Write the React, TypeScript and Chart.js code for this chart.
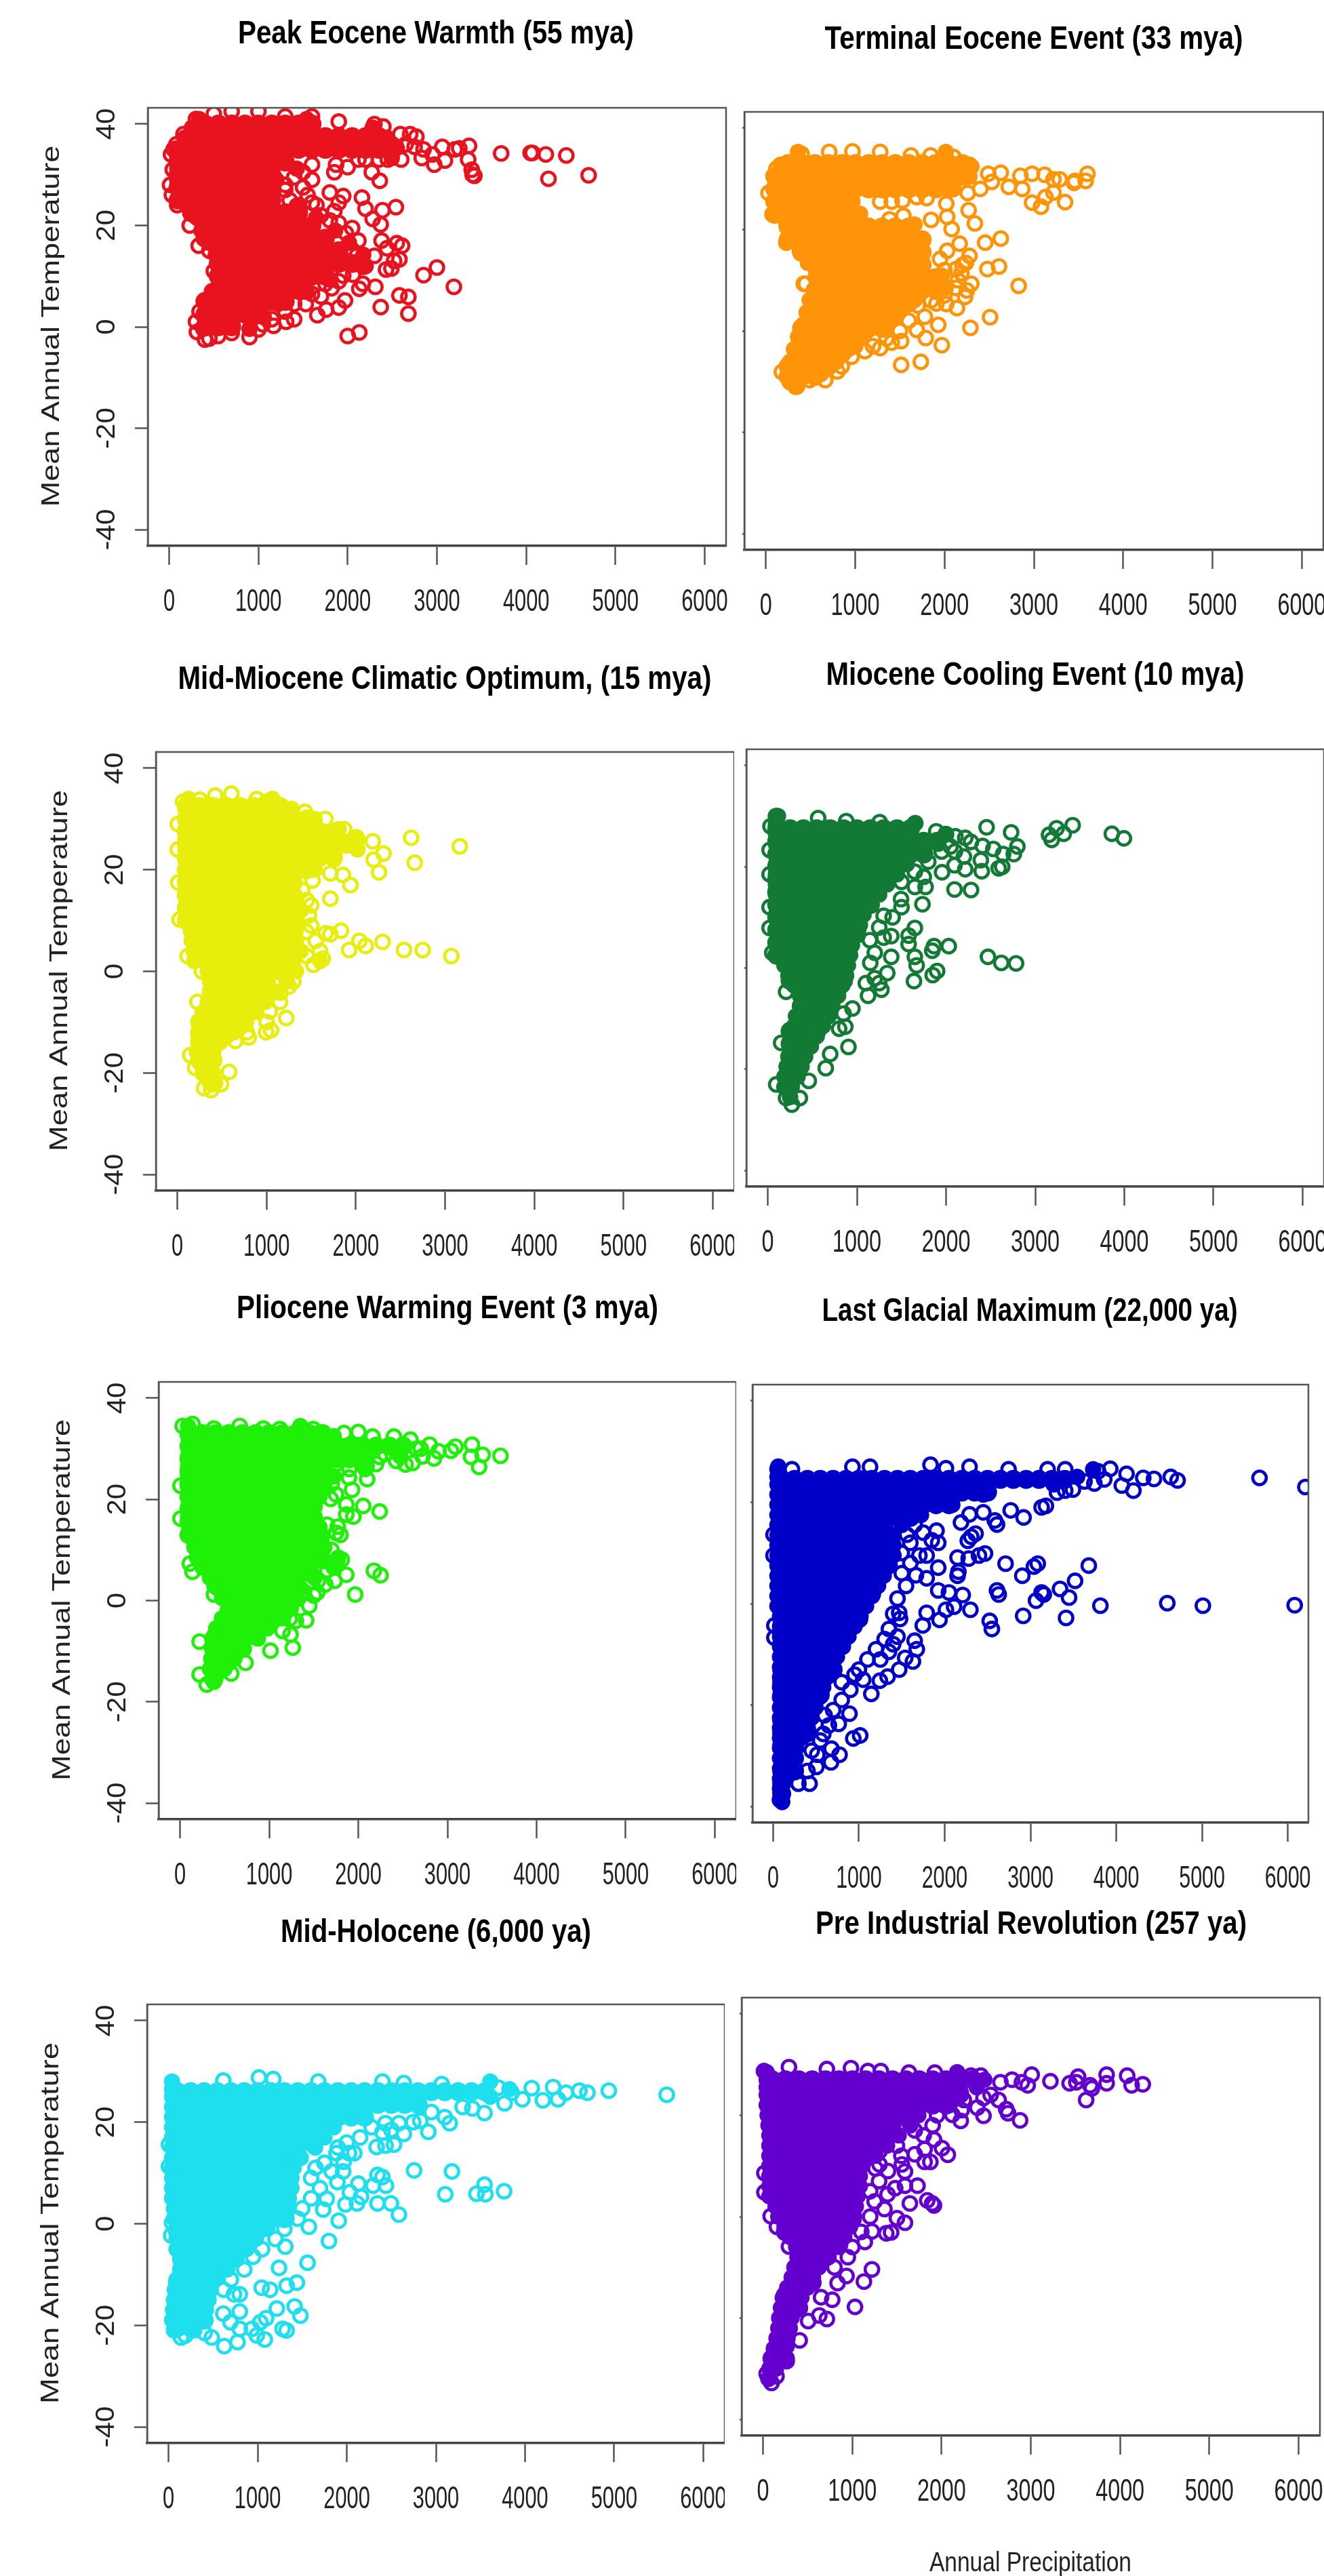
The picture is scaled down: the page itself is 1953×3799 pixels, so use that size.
import React, { useEffect, useRef } from "react";
import { Chart, registerables } from "chart.js";

Chart.register(...registerables);

type Row = [number, number[]];

const xTicks = [0, 1000, 2000, 3000, 4000, 5000, 6000];
const yTicks = [-40, -20, 0, 20, 40];
const yAxisTitle = "Mean Annual Temperature";
const xAxisTitle = "Annual Precipitation";

// Dense, fully overplotted clouds: [temperature, [precipitation, ...]]
const peakDense: Row[] = [
  [40, [400,550,700,850,1000,1150,1300,1450,1600]],
  [37.5, [250,400,550,700,850,1000,1150,1300,1450,1600,1750,1900,2050,2200,2350]],
  [35, [100,250,400,550,700,850,1000,1150,1300,1450,1600,1750,1900,2050,2200,2350,2500]],
  [32.5, [100,250,400,550,700,850,1000,1150,1300]],
  [30, [100,250,400,550,700,850,1000,1150]],
  [27.5, [100,250,400,550,700,850,1000,1150]],
  [25, [100,250,400,550,700,850,1000,1150]],
  [22.5, [250,400,550,700,850,1000,1150,1300,1450]],
  [20, [400,550,700,850,1000,1150,1300,1450,1600]],
  [17.5, [400,550,700,850,1000,1150,1300,1450,1600,1750]],
  [15, [550,700,850,1000,1150,1300,1450,1600,1750,1900]],
  [12.5, [550,700,850,1000,1150,1300,1450,1600,1750,1900,2050]],
  [10, [550,700,850,1000,1150,1300,1450,1600,1750]],
  [7.5, [550,700,850,1000,1150,1300,1450]],
  [5, [400,550,700,850,1000,1150,1300]],
  [2.5, [400,550,700,850,1000]],
  [0, [400,550,700]],
];
// Outer fringe of each cloud: [temperature, low precipitation, high precipitation]
const peakFringe = [[41,335,1540],[39.3,255,2280],[37.3,175,2440],[35.3,110,2550],[33.3,90,2495],[31.2,90,1430],[28.8,90,1165],[26.4,110,1165],[23.9,200,1430],[21.5,310,1645],[19,360,1860],[16.6,440,2015],[14.2,520,2175],[11.8,575,2175],[9.3,575,1805],[6.9,495,1540],[4.5,440,1220],[2,390,1060],[-0.4,380,900]];
const peakRings = [3720,34.2,4050,34.3,4070,34.3,4220,34,4450,33.8,4700,29.9,4250,29.2,3360,35.7,3350,33,3390,31,3400,30,3420,29.8,3060,35.5,3200,35,3250,35.2,3090,32.8,2970,32,2830,33.3,2950,34,2850,35,2700,38,2770,37.5,2590,38,2600,33,2450,33,2650,36,2500,36,2750,35.5,1200,29,1000,28.5,1100,27,1300,27,1350,25,1550,26,1600,24.5,1650,24,1800,26.5,1950,25.8,1900,24.5,1850,22.8,2160,25.5,2200,23.3,2280,21.3,2390,23,2370,20.2,2540,23.6,2360,28.8,2270,30.5,2000,31.5,1850,30.5,1870,32,1600,32,1500,30.5,1300,28,2120,33,2350,33,2200,33,2380,17,2440,15.5,2550,16.5,2610,16,2520,13,2580,13.3,2430,11.3,2490,11.5,2300,14,2200,12,2100,14,2120,17,1980,18.5,2060,15,2850,10.2,3000,11.7,3190,7.9,2310,7.9,2170,8.5,2130,7.5,2060,10.3,1950,10.1,1820,7.6,2580,6.2,2680,5.9,2680,2.6,2370,3.9,1970,5.2,1900,3.8,1760,3.4,1660,2.3,1530,4.5,1700,6,1400,1.5,1310,1,1170,.2,2000,-1.8,2130,-1.1,900,-2,700,-1.2,1000,-.5,40,31,10,28,50,35,20,34,30,26,90,24,230,20,330,16,450,15,500,11,480,7,340,3,300,1,310,-1,400,-2.5,450,-2.3,550,-1.8,300,41,500,42,700,42.5,1000,42.5,1300,41.5,1600,41.5,1900,40.5,2300,40,2400,39.5,160,38,80,36,1500,27.5,1400,29.5,1600,29,1450,24,1700,22,1800,21,1900,20.5,2050,19.5,2000,12.5,1900,9,1750,8.5,1600,6.5,1400,4.5,1300,3,1150,1.5,1050,.5];

const terminalDense: Row[] = [
  [33, [250,400,550,700,850,1000,1150,1300,1450,1600,1750,1900,2050,2200]],
  [30.5, [100,250,400,550,700,850,1000,1150,1300,1450,1600,1750,1900,2050,2200]],
  [28, [100,250,400,550,700,850,1000,1150,1300,1450,1600,1750,1900,2050]],
  [25.5, [100,250,400,550,700,850]],
  [23, [100,250,400,550,700,850,1000]],
  [20.5, [250,400,550,700,850,1000,1150,1300,1450,1600]],
  [18, [250,400,550,700,850,1000,1150,1300,1450,1600,1750]],
  [15.5, [400,550,700,850,1000,1150,1300,1450,1600,1750]],
  [13, [550,700,850,1000,1150,1300,1450,1600,1750]],
  [10.5, [700,850,1000,1150,1300,1450,1600,1750,1900]],
  [8, [550,700,850,1000,1150,1300,1450,1600,1750,1900]],
  [5.5, [550,700,850,1000,1150,1300,1450,1600]],
  [3, [550,700,850,1000,1150,1300,1450]],
  [0.5, [400,550,700,850,1000,1150,1300]],
  [-2, [400,550,700,850,1000]],
  [-4.5, [400,550,700,850]],
  [-7, [250,400,550,700]],
  [-9, [250,400,550]],
];
const terminalFringe = [[35.3,360,2015],[32.8,165,2280],[30.4,120,2280],[28,100,2100],[25.5,100,970],[23.1,140,1055],[21,230,1665],[18.2,295,1730],[15.8,380,1755],[13.4,470,1755],[10.9,560,1970],[8.5,560,2015],[6.1,490,1665],[3.6,455,1490],[1.2,415,1360],[-1.2,360,1055],[-3.6,315,925],[-6.1,270,790],[-8.5,250,620],[-11,340,350]];
const terminalRings = [3600,31,3580,29.6,3460,29.6,3450,29.2,3350,25.4,3290,29.9,3220,29.9,3220,27.3,3130,26.4,3080,24.5,2980,25.3,3120,30.8,2980,31,2850,30.6,2870,28,2720,28.4,2630,31.2,2490,31,2530,29.4,2400,28,2300,32.4,2260,27.2,2100,28,2020,25.1,1800,26.2,1690,26.4,1530,25.7,1410,25.5,1280,25.5,2270,23.8,2340,21.2,2030,22.5,2080,20.1,1850,21.9,1540,22.7,1385,22,905,22.3,1035,23.1,2630,18.2,2455,17.4,2170,17.2,2030,15.8,1950,14.2,2280,14.8,2240,13.4,2610,12.7,2480,12.2,2300,9.3,2190,11.4,2130,12.2,2830,8.9,2130,8.5,2230,6.7,2140,4.5,2020,5.3,1910,5.4,2510,2.7,2290,.6,1930,1.2,1780,2.8,1690,.2,1790,-1.4,1970,-2.8,1515,-2,1410,-2.3,1280,-3.4,1110,-4,1735,-6.1,1515,-6.7,960,-5.1,665,-9.7,425,9.3,445,9.3,400,34.9,710,35.3,970,35.4,1280,35.3,1625,34.6,1845,34.6,2100,34.3,120,32,30,27.2,75,23,230,17.4,270,-10.1,180,-8.1,335,-11,490,-9.7,1900,9.5,2000,12,2150,10,2250,8,2200,13,2000,7,1850,6,1700,5,1600,2,1500,0,1350,-1.5,1200,-3,1100,-1,1000,-3,850,-7,800,-8];

const midMioceneDense: Row[] = [
  [32.5, [100,250,400,550,700,850,1000,1150]],
  [30, [100,250,400,550,700,850,1000,1150,1300,1450]],
  [27.5, [100,250,400,550,700,850,1000,1150,1300,1450,1600,1750]],
  [25, [100,250,400,550,700,850,1000,1150,1300,1450,1600,1750,1900]],
  [22.5, [100,250,400,550,700,850,1000,1150,1300,1450,1600,1750]],
  [20, [100,250,400,550,700,850,1000,1150,1300,1450]],
  [17.5, [100,250,400,550,700,850,1000,1150,1300]],
  [15, [100,250,400,550,700,850,1000,1150,1300]],
  [12.5, [100,250,400,550,700,850,1000,1150,1300]],
  [10, [100,250,400,550,700,850,1000,1150,1300]],
  [7.5, [250,400,550,700,850,1000,1150,1300]],
  [5, [250,400,550,700,850,1000,1150,1300]],
  [2.5, [250,400,550,700,850,1000,1150,1300]],
  [0, [400,550,700,850,1000,1150]],
  [-2.5, [400,550,700,850,1000]],
  [-5, [400,550,700,850,1000]],
  [-7.5, [400,550,700,850]],
  [-10, [250,400,550,700]],
  [-12.5, [250,400,550]],
  [-15, [250,400]],
  [-17.5, [250,400]],
  [-20, [300]],
  [-22, [400]],
];
const midMioceneFringe = [[34,125,1065],[32,90,1280],[30,90,1540],[28,90,1810],[26,90,2020],[24,90,2020],[22,90,1755],[20,90,1540],[18,100,1280],[16,100,1280],[14,100,1330],[12,100,1385],[10,115,1330],[8,150,1330],[6,160,1330],[4,180,1385],[2,190,1600],[0,340,1330],[-2,365,1225],[-4,365,1115],[-6,340,985],[-8,285,880],[-10,260,770],[-12,235,640],[-14,235,480],[-16,220,400],[-18,250,345],[-20,340,400],[-22,365,425]];
const midMioceneRings = [1430,31.4,1660,30,1870,28,2005,26.4,2190,25.6,2310,23.2,2200,22,2260,19.5,2620,26.3,2660,21.4,3165,24.6,1940,17,1855,19,1715,19.3,1515,17.9,1715,14.3,1500,13,1475,11,1445,7.8,1660,7.5,1715,7.3,1835,8,2040,6,1925,4.2,2110,5,2300,5.8,2540,4.2,2750,4.2,3070,3,1630,2.5,1525,1.3,1155,-4.2,1035,-7.9,1220,-9.2,1050,-11.6,995,-12,780,-12,650,-13.7,580,-19.8,490,-22.2,300,-23,380,-23.4,200,-19,145,-16.5,425,34.6,605,35,250,33.8,65,33.4,890,33.9,995,33.4,1260,31.7,5,29,5,24,10,17.5,25,10.2,115,3,275,0,225,-6,1400,16,1450,14,1500,9,1550,6,1450,3,1600,4,1300,-2,1150,-6,1250,-3,1000,-10,800,-13];

const coolingDense: Row[] = [
  [27.5, [100,250,400,550,700,850,1000,1150,1300,1450,1600]],
  [25, [100,250,400,550,700,850,1000,1150,1300,1450,1600,1750,1900]],
  [22.5, [100,250,400,550,700,850,1000,1150,1300,1450,1600,1750]],
  [20, [100,250,400,550,700,850,1000,1150,1300,1450]],
  [17.5, [100,250,400,550,700,850,1000,1150,1300]],
  [15, [100,250,400,550,700,850,1000,1150]],
  [12.5, [100,250,400,550,700,850,1000,1150]],
  [10, [100,250,400,550,700,850,1000]],
  [7.5, [100,250,400,550,700,850,1000]],
  [5, [100,250,400,550,700,850]],
  [2.5, [100,250,400,550,700,850]],
  [0, [250,400,550,700,850]],
  [-2.5, [250,400,550,700,850]],
  [-5, [400,550,700]],
  [-7.5, [400,550,700]],
  [-10, [400,550]],
  [-12.5, [250,400,550]],
  [-15, [250,400]],
  [-17.5, [250,400]],
  [-20, [250]],
  [-22.5, [250]],
];
const coolingFringe = [[30,90,115],[28.5,90,1645],[26.5,90,1995],[24.5,90,1910],[22.5,90,1730],[20.5,90,1560],[18.5,90,1450],[16.5,90,1340],[14.5,90,1250],[12.5,90,1165],[10.5,90,1075],[8.5,120,1035],[6.5,120,1010],[4.5,120,945],[2.5,120,925],[0.5,185,900],[-1.5,230,880],[-3.5,295,835],[-5.5,360,790],[-7.5,360,725],[-9.5,315,685],[-11.5,295,620],[-13.5,270,550],[-15.5,250,485],[-17.5,230,420],[-19.5,210,380],[-21.5,185,335],[-23.5,185,270],[-25.5,250,250]];
const coolingRings = [2455,27.8,2730,26.8,3155,26.3,3240,27.6,3185,25.3,3320,26.5,3420,28.2,3860,26.5,3995,25.6,2800,24,2760,22.5,2640,22.5,2530,23.5,2410,24.1,2280,24.9,2215,25.7,2105,26,2000,26.4,2390,21.3,2400,19.1,2590,19.7,2630,20,2215,19.5,2095,20.3,1955,18.9,2095,15.5,2280,15.4,1770,16,1735,12.6,1650,7.9,1580,6.4,1580,4.7,1650,2.2,1670,.5,1640,-2.6,1865,4.3,1845,3.4,2030,4.3,2470,2.2,2620,1,2785,.9,1900,-.6,1850,-1.4,1385,6.3,1385,2.2,1340,-1,1275,-4.3,1125,-5.5,1145,5.5,870,-11.6,905,-15.6,650,-19.8,460,-22.3,360,-25.7,270,-27,1300,10.3,1495,13.6,1650,16,95,30,565,29.6,30,28,880,29,1255,28.8,1655,28.6,1890,27,20,23.3,20,18.5,20,12,20,7.9,50,3,205,-4.7,150,-14.8,95,-23,205,-25.7,1500,12,1400,10,1250,8,1300,6,1200,3,1150,1,1200,-2,1250,-3,1100,-3,950,-8,800,-12,850,-9,700,-17,1500,17,1650,19,1800,21,1950,23,1750,18,2100,23,2200,22,2050,24];

const plioceneDense: Row[] = [
  [33, [100,250,400,550,700,850,1000,1150,1300,1450,1600]],
  [30.5, [100,250,400,550,700,850,1000,1150,1300,1450,1600,1750,1900,2050,2200,2350,2500]],
  [28, [100,250,400,550,700,850,1000,1150,1300,1450,1600,1750,1900,2050]],
  [25.5, [100,250,400,550,700,850,1000,1150,1300,1450,1600]],
  [23, [100,250,400,550,700,850,1000,1150,1300,1450,1600]],
  [20.5, [100,250,400,550,700,850,1000,1150,1300,1450]],
  [18, [100,250,400,550,700,850,1000,1150,1300,1450]],
  [15.5, [100,250,400,550,700,850,1000,1150,1300,1450]],
  [13, [100,250,400,550,700,850,1000,1150,1300,1450]],
  [10.5, [250,400,550,700,850,1000,1150,1300,1450]],
  [8, [250,400,550,700,850,1000,1150,1300,1450,1600]],
  [5.5, [400,550,700,850,1000,1150,1300,1450]],
  [3, [400,550,700,850,1000,1150,1300]],
  [0.5, [550,700,850,1000,1150,1300]],
  [-2, [550,700,850,1000,1150]],
  [-4.5, [550,700,850,1000]],
  [-7, [400,550,700,850]],
  [-9.5, [400,550,700]],
  [-12, [400,550]],
  [-14.5, [400]],
];
const plioceneFringe = [[34.5,90,1350],[32.5,90,1725],[30.5,90,2520],[28.5,90,2470],[26.5,90,2095],[24.5,90,1725],[22.5,90,1620],[20.5,90,1565],[18.5,90,1510],[16.5,90,1510],[14.5,105,1565],[12.5,130,1590],[10.5,160,1620],[8.5,190,1775],[6.5,255,1725],[4.5,335,1510],[2.5,415,1350],[0.5,470,1300],[-1.5,545,1245],[-3.5,470,1140],[-5.5,405,980],[-7.5,360,875],[-9.5,360,715],[-11.5,350,610],[-13.5,335,500],[-15.5,360,395]];
const plioceneRings = [3595,28.6,3395,28.8,3355,26.4,3275,30.8,3265,28.4,3090,30.4,3040,29.6,2800,30.8,2850,28.1,2720,28.5,2585,31.8,2610,27.2,2530,26.9,2425,27.6,2400,32.4,2505,30.8,2160,32.4,2000,33.3,1840,33.1,1550,33,1495,33.9,2240,28.4,2080,26,1680,24.5,1895,24.3,1930,21.9,1690,20.1,1865,19,2055,18.7,2240,17.6,1865,17,1945,16.6,1770,14.6,1750,13.4,1815,8.1,1760,7.7,1865,5.1,1735,3.9,1630,3.2,2175,5.9,2250,5,1965,1.2,1540,1.6,1390,1.8,1415,-3.9,1230,-3.6,1240,-6.7,1265,-9.3,1015,-9.9,735,-12.3,575,-14.4,220,-8.1,300,-16.6,380,-16,220,-14.6,140,34.9,30,34.5,380,34,670,34.5,935,34,1120,33.9,1335,33.9,5,22.7,5,16.2,110,7.3,140,5.7,380,1.2,1800,13,1700,10,1650,6,1550,4,1500,1,1450,-1,1300,-4,1150,-6,1700,23,1750,21,1650,15,1750,27,1900,26,2100,24,2200,27,2300,29,2450,29,2650,30,2700,30,2900,29.5];

const glacialDense: Row[] = [
  [24.5, [100,250,400,550,700,850,1000,1150,1300,1450,1600,1750,1900,2050,2200,2350,2500,2650,2800,2950,3100,3250,3400]],
  [22, [100,250,400,550,700,850,1000,1150,1300,1450,1600,1750,1900,2050,2200,2350,2500]],
  [19.5, [100,250,400,550,700,850,1000,1150,1300,1450,1600,1750,1900,2050]],
  [17, [100,250,400,550,700,850,1000,1150,1300,1450,1600]],
  [14.5, [100,250,400,550,700,850,1000,1150,1300]],
  [12, [100,250,400,550,700,850,1000,1150,1300]],
  [9.5, [100,250,400,550,700,850,1000,1150,1300]],
  [7, [100,250,400,550,700,850,1000,1150,1300]],
  [4.5, [100,250,400,550,700,850,1000,1150]],
  [2, [100,250,400,550,700,850,1000,1150]],
  [-0.5, [100,250,400,550,700,850,1000]],
  [-3, [100,250,400,550,700,850,1000]],
  [-5.5, [100,250,400,550,700,850]],
  [-8, [100,250,400,550,700]],
  [-10.5, [100,250,400,550,700]],
  [-13, [100,250,400,550,700]],
  [-15.5, [100,250,400,550]],
  [-18, [100,250,400,550]],
  [-20.5, [100,250,400]],
  [-23, [100,250,400]],
  [-25.5, [100,250,400]],
  [-28, [100,250]],
  [-30.5, [100,250]],
  [-33, [100,250]],
  [-35.5, [100]],
  [-37.5, [100]],
];
const glacialFringe = [[26.5,50,3730],[25,50,3545],[23.5,50,3270],[21.5,50,2450],[19.5,50,2090],[17.5,50,1725],[15.5,50,1500],[13.5,50,1405],[11.5,50,1405],[9.5,50,1405],[7.5,50,1360],[5.5,50,1290],[3.5,50,1225],[1.5,50,1155],[-0.5,50,1085],[-2.5,80,1020],[-4.5,80,950],[-6.5,80,880],[-8.5,80,815],[-10.5,80,745],[-12.5,80,680],[-14.5,80,630],[-16.5,80,585],[-18.5,80,540],[-20.5,80,495],[-22.5,80,450],[-24.5,80,405],[-26.5,80,335],[-28.5,80,270],[-30.5,80,220],[-32.5,80,175],[-34.5,80,130],[-36.5,80,100],[-38.5,90,100]];
const glacialRings = [5670,24.8,6205,23,4715,24.3,4635,25,4440,24.6,4315,24.8,4200,22.3,4120,25.6,4065,23.3,3930,26.6,3860,24.5,3790,26.1,3745,23.7,3630,24.1,3495,22.5,3310,21.9,3405,22.3,3180,19.3,3130,19,2920,17,2770,18.4,2610,15.6,2585,16.4,2450,18,2290,17.6,2190,16,2360,13.8,2310,13.2,2270,12.4,2470,9.9,2400,9.5,2280,8.9,2150,9.1,2150,5.5,2160,6.3,2710,7.9,3040,7.3,3085,7.9,2905,5.5,3680,7.5,3520,4.5,3345,2.9,3450,1.2,3155,1.8,3130,2.2,3065,.6,2630,1.8,2610,2.6,2915,-2.4,3415,-2.8,3815,-.4,4595,.1,5010,-.4,6080,-.3,2525,-3.4,2550,-5,2300,-1.2,2210,1.7,2050,2.2,1925,2.6,2110,-.6,2015,-1.2,1940,-3.2,1790,-1.8,1745,-4.3,1470,-1.8,1480,-3,1790,5,1665,5.6,1925,7.1,1925,12,1905,14.4,1790,9.5,1705,9.5,1560,13.6,1650,-7.3,1675,-9,1630,-11.4,1540,-10.7,1470,-13,1335,-14.4,1245,-15.2,1145,-17.8,1015,-26,935,-26.6,775,-29.8,675,-31.3,680,-28.6,890,-21.7,765,-23.7,585,-25.7,515,-29.8,505,-32.2,425,-35.5,295,-35.5,60,27,220,26.5,925,27,1130,27,1835,27.4,2015,26.7,2290,27,2745,26.5,3200,26.5,3405,26.5,80,-38.7,15,-4.3,15,-6.7,5,9.5,5,13.6,105,-39.1,1500,17,1650,15.5,1750,14,1850,12.5,1600,12,1500,10,1600,8,1500,6,1550,3.5,1450,1,1400,-2,1350,-5,1300,-7,1200,-9,1100,-11,1000,-13,1250,-11,1350,-9.5,1400,-8,1450,-6.5,900,-17,800,-19,700,-21,650,-24,600,-22,800,-15.5,950,-14,1050,-15,550,-27,450,-29,400,-33];

const holoceneDense: Row[] = [
  [26, [100,250,400,550,700,850,1000,1150,1300,1450,1600,1750,1900,2050,2200,2350,2500,2650,2800,2950,3100,3250,3400,3550]],
  [23.5, [100,250,400,550,700,850,1000,1150,1300,1450,1600,1750,1900,2050,2200,2350,2500,2650,2800]],
  [21, [100,250,400,550,700,850,1000,1150,1300,1450,1600,1750,1900,2050,2200]],
  [18.5, [100,250,400,550,700,850,1000,1150,1300,1450,1600,1750]],
  [16, [100,250,400,550,700,850,1000,1150,1300,1450,1600]],
  [13.5, [100,250,400,550,700,850,1000,1150,1300,1450]],
  [11, [100,250,400,550,700,850,1000,1150,1300]],
  [8.5, [100,250,400,550,700,850,1000,1150,1300]],
  [6, [100,250,400,550,700,850,1000,1150,1300]],
  [3.5, [100,250,400,550,700,850,1000,1150,1300]],
  [1, [100,250,400,550,700,850,1000,1150,1300]],
  [-1.5, [100,250,400,550,700,850,1000]],
  [-4, [250,400,550,700,850]],
  [-6.5, [250,400,550,700]],
  [-9, [250,400,550]],
  [-11.5, [100,250,400]],
  [-14, [100,250,400]],
  [-16.5, [100,250,400]],
  [-19, [100,250,400]],
  [-20.5, [100,250]],
];
const holoceneFringe = [[28,40,3610],[26.5,40,3825],[25,40,3610],[23,40,2815],[21,40,2175],[19,40,1855],[17,40,1750],[15,40,1645],[13,40,1485],[11,40,1405],[9,40,1380],[7,40,1380],[5,40,1350],[3,60,1350],[1,60,1325],[-1,90,1110],[-3,90,980],[-5,90,875],[-7,130,765],[-9,130,660],[-11,90,525],[-13,70,475],[-15,60,450],[-17,50,420],[-19,40,370],[-21,60,290]];
const holoceneRings = [5590,25.4,4940,26.2,4700,25.8,4610,26.2,4460,25.8,4370,24.5,4315,26.9,4200,24.3,4075,26.7,3970,24.5,3850,25.8,3770,23.7,3545,21.8,3410,22.7,3155,19.8,2915,18.1,2825,20.3,2745,20,2640,17.7,2530,15.6,2435,15.4,2335,15.1,2280,19,2585,19.8,2435,19.8,2085,13.9,2025,13.9,1885,13.9,1965,12.2,1960,10.3,1830,10.3,1895,8.2,2755,10.5,3180,10.3,3545,7.7,3105,5.8,3455,5.9,3555,5.8,3765,6.4,2345,9.6,2400,9.2,2295,7.5,2440,7.5,2130,7.9,2035,6.2,1985,3.8,2115,4,2160,5.3,2345,4,2495,4,2585,1.8,1910,.6,1800,-3.4,1735,2.8,1775,4.9,1575,-.6,1310,-4.5,1560,-7.7,1240,-8.7,1440,-11.6,1325,-12.2,1140,-13,1045,-12.6,800,-13.9,735,-13.9,800,-17.3,1215,-16.7,1415,-16.3,1480,-18.1,1095,-18.6,1030,-19.4,1280,-20.7,1325,-21,935,-20.7,990,-22,1080,-22.8,800,-20.7,775,-23.3,625,-24.1,695,-19.4,615,-17.7,485,-22.4,405,-21.5,140,-22.4,190,-22,1015,28.8,615,28.2,1175,28.5,1680,28,2400,28,2640,27.7,3065,27.5,3700,26.8,30,-2.3,40,.2,5,15.6,5,11.3,2000,16,2150,17,1900,15,1750,12,1650,11,1600,9,1700,7,1600,5,1500,3,1450,1,1300,-1,1200,-3,1050,-5,950,-6.5,850,-9,700,-11,620,-13,2950,22,3100,21,3300,23,2500,18.5,2400,18];

const preIndustrialDense: Row[] = [
  [27, [100,250,400,550,700,850,1000,1150,1300,1450,1600,1750,1900,2050,2200,2350]],
  [24.5, [100,250,400,550,700,850,1000,1150,1300,1450,1600,1750,1900,2050,2200]],
  [22, [100,250,400,550,700,850,1000,1150,1300,1450,1600,1750,1900,2050]],
  [19.5, [100,250,400,550,700,850,1000,1150,1300,1450,1600]],
  [17, [100,250,400,550,700,850,1000,1150,1300,1450]],
  [14.5, [100,250,400,550,700,850,1000,1150,1300]],
  [12, [100,250,400,550,700,850,1000,1150]],
  [9.5, [100,250,400,550,700,850,1000]],
  [7, [100,250,400,550,700,850,1000]],
  [4.5, [100,250,400,550,700,850,1000]],
  [2, [250,400,550,700,850,1000]],
  [-0.5, [250,400,550,700,850,1000]],
  [-3, [250,400,550,700,850]],
  [-5.5, [400,550,700,850]],
  [-8, [400,550,700]],
  [-10.5, [400,550]],
  [-13, [400,550]],
  [-15.5, [250,400]],
  [-18, [250,400]],
  [-20.5, [250]],
  [-23, [250]],
  [-25.5, [250]],
  [-28, [100,250]],
  [-30, [100]],
];
const preIndustrialFringe = [[28.5,40,2175],[27,40,2480],[25.5,40,2395],[24,40,2220],[22,40,2090],[20,50,1740],[18,60,1650],[16,70,1520],[14,70,1390],[12,70,1260],[10,70,1105],[8,70,1085],[6,70,1085],[4,70,1060],[2,140,1040],[0,170,1020],[-2,240,975],[-4,300,910],[-6,370,845],[-8,390,735],[-10,350,625],[-12,320,560],[-14,270,495],[-16,220,430],[-18,200,365],[-20,180,320],[-22,170,300],[-24,150,275],[-26,120,235],[-28,90,210],[-30,70,145],[-32,60,60]];
const preIndustrialRings = [4255,26.1,4130,25.9,4080,27.8,3850,26.3,3850,28,3665,25.9,3685,25.3,3620,23,3530,27.6,3510,26.5,3435,26.3,3220,26.7,3010,28,2965,25.9,2880,19,2900,26.5,2745,20.4,2725,21.2,2640,23,2470,19.9,2470,23.4,2225,21,2215,18.9,2120,20.1,2070,12.2,2005,13.5,1915,15.2,1875,10.8,1810,10.8,1810,13.3,1730,6.1,1915,2.2,1895,2.6,1840,3.2,1645,2.6,1590,-1.2,1590,6.1,1590,8.9,1555,10.3,1700,12.3,1435,-3.1,1380,-3.3,1500,-.3,1360,1.5,1480,5.6,1395,4.4,1305,12.9,1260,9.5,1305,10.3,1220,-2.9,1140,-5,1220,-10.4,1130,-12.8,1030,-17.8,935,-11.7,835,-13.1,775,-16.4,650,-15.9,715,-20.2,630,-19.5,505,-20.6,410,-24.4,265,-28.5,150,-31.5,95,-32.8,40,-31,290,-5.9,155,-2,85,.1,15,4.8,15,8.6,290,29.5,715,29.1,985,29.3,1175,28.7,1320,28.7,1635,28.4,1925,28.4,2180,28,2330,27.8,2440,27.8,2660,26.5,2790,27,10,28.7,1500,14,1550,12,1400,9,1300,7,1200,5,1250,3,1200,0,1100,-3,1000,-6,950,-8,800,-10,1700,17,1800,16,1900,18,1950,20,2050,22,2250,23,2400,21.5,2550,24];

interface Panel {
  title: string; titleX: number; titleY: number; titleW: number;
  color: string; dense: Row[]; fringe: number[][]; rings: number[];
  left: number; right: number; top: number; bottom: number; clipRight: number;
  yLabels: boolean; digitScale: number; xTitle?: boolean;
}

const panels: Panel[] = [
  { title: "Peak Eocene Warmth (55 mya)", titleX: 643, titleY: 51, titleW: 584, color: "#E8131F", dense: peakDense, fringe: peakFringe, rings: peakRings, left: 218, right: 1071, top: 159, bottom: 805, clipRight: 1077, yLabels: true, digitScale: 0.655 },
  { title: "Terminal Eocene Event (33 mya)", titleX: 1525, titleY: 59, titleW: 617, color: "#FF9408", dense: terminalDense, fringe: terminalFringe, rings: terminalRings, left: 1098, right: 1952, top: 165, bottom: 811, clipRight: 1953, yLabels: false, digitScale: 0.688 },
  { title: "Mid-Miocene Climatic Optimum, (15 mya)", titleX: 656, titleY: 1003, titleW: 787, color: "#E8EE0C", dense: midMioceneDense, fringe: midMioceneFringe, rings: midMioceneRings, left: 230, right: 1083, top: 1109, bottom: 1756, clipRight: 1083, yLabels: true, digitScale: 0.655 },
  { title: "Miocene Cooling Event (10 mya)", titleX: 1527, titleY: 997, titleW: 617, color: "#137A35", dense: coolingDense, fringe: coolingFringe, rings: coolingRings, left: 1101, right: 1953, top: 1105, bottom: 1750, clipRight: 1953, yLabels: false, digitScale: 0.688 },
  { title: "Pliocene Warming Event (3 mya)", titleX: 660, titleY: 1931, titleW: 622, color: "#1EF008", dense: plioceneDense, fringe: plioceneFringe, rings: plioceneRings, left: 234, right: 1086, top: 2038, bottom: 2683, clipRight: 1086, yLabels: true, digitScale: 0.655 },
  { title: "Last Glacial Maximum (22,000 ya)", titleX: 1519, titleY: 1935, titleW: 613, color: "#0000C8", dense: glacialDense, fringe: glacialFringe, rings: glacialRings, left: 1110, right: 1930, top: 2042, bottom: 2688, clipRight: 1935, yLabels: false, digitScale: 0.646 },
  { title: "Mid-Holocene (6,000 ya)", titleX: 643, titleY: 2851, titleW: 458, color: "#1DDFEE", dense: holoceneDense, fringe: holoceneFringe, rings: holoceneRings, left: 217, right: 1069, top: 2956, bottom: 3603, clipRight: 1069, yLabels: true, digitScale: 0.655 },
  { title: "Pre Industrial Revolution (257 ya)", titleX: 1521, titleY: 2839, titleW: 636, color: "#6400CF", dense: preIndustrialDense, fringe: preIndustrialFringe, rings: preIndustrialRings, left: 1094, right: 1947, top: 2946, bottom: 3592, clipRight: 1953, yLabels: false, digitScale: 0.688, xTitle: true },
];

const FONT = '"Liberation Sans", Arial, sans-serif';

function stretched(ctx: CanvasRenderingContext2D, text: string, x: number, y: number, font: string, rot: number, scale: number | null, target: number | null, color: string) {
  ctx.save();
  ctx.translate(x, y);
  ctx.rotate(rot);
  ctx.font = font;
  ctx.fillStyle = color;
  ctx.textAlign = "center";
  ctx.textBaseline = "middle";
  const s = target ? target / ctx.measureText(text).width : (scale as number);
  ctx.scale(s, 1);
  ctx.fillText(text, 0, 0);
  ctx.restore();
}

function PanelChart({ p }: { p: Panel }) {
  const ref = useRef<HTMLCanvasElement>(null);
  const canvasLeft = p.yLabels ? 0 : p.left - 10;
  const canvasTop = p.top - 150;
  const canvasBottom = p.bottom + 207;
  const width = p.clipRight - canvasLeft;
  const height = canvasBottom - canvasTop;

  useEffect(() => {
    const textPlugin = {
      id: "panelText",
      afterDraw(chart: any) {
        const ctx = chart.ctx as CanvasRenderingContext2D;
        const { left, right, top, bottom } = chart.chartArea;
        ctx.save();
        ctx.strokeStyle = "#555555";
        ctx.lineWidth = 2.5;
        ctx.beginPath();
        ctx.moveTo(left, bottom);
        ctx.lineTo(left, top);
        ctx.lineTo(right, top);
        ctx.lineTo(right, bottom);
        ctx.stroke();
        ctx.restore();
        stretched(ctx, p.title, p.titleX - canvasLeft, p.titleY - canvasTop, `bold 48px ${FONT}`, 0, null, p.titleW, "#000000");
        for (const v of xTicks) {
          stretched(ctx, String(v), chart.scales.x.getPixelForValue(v), bottom + 83, `47px ${FONT}`, 0, p.digitScale, null, "#222222");
        }
        if (p.yLabels) {
          for (const v of yTicks) {
            stretched(ctx, String(v), left - 60, chart.scales.y.getPixelForValue(v), `39px ${FONT}`, -Math.PI / 2, 1.08, null, "#222222");
          }
          stretched(ctx, yAxisTitle, left - 141, (top + bottom) / 2 - 1, `36px ${FONT}`, -Math.PI / 2, null, 533, "#222222");
        }
        if (p.xTitle) {
          stretched(ctx, xAxisTitle, 1520 - canvasLeft, 3781 - canvasTop, `40px ${FONT}`, 0, null, 298, "#222222");
        }
      },
    };
    const chart = new Chart(ref.current as HTMLCanvasElement, {
      type: "scatter",
      data: {
        datasets: [
          {
            label: p.title,
            data: p.rings.reduce((acc: any[], v, i, all) => { if (i % 2 === 0) acc.push({ x: v, y: all[i + 1] }); return acc; }, []),
            pointStyle: "circle",
            pointRadius: 10,
            pointBackgroundColor: "rgba(0,0,0,0)",
            pointBorderColor: p.color,
            pointBorderWidth: 4.6,
          },
          {
            label: p.title + " (fringe)",
            data: p.fringe.flatMap(([t, lo, hi]) => [{ x: lo, y: t }, { x: hi, y: t }]),
            pointStyle: "circle",
            pointRadius: 12,
            pointBackgroundColor: p.color,
            pointBorderColor: p.color,
            pointBorderWidth: 0,
          },
          {
            label: p.title + " (dense)",
            data: p.dense.flatMap(([t, xs]) => xs.map((x) => ({ x, y: t }))),
            pointStyle: "circle",
            pointRadius: 14,
            pointBackgroundColor: p.color,
            pointBorderColor: p.color,
            pointBorderWidth: 0,
          },
        ],
      } as any,
      plugins: [textPlugin],
      options: {
        animation: false,
        responsive: false,
        events: [],
        layout: { autoPadding: false, padding: { top: p.top - canvasTop, right: Math.max(0, p.clipRight - p.right), left: 0, bottom: 0 } },
        plugins: { legend: { display: false }, tooltip: { enabled: false }, title: { display: false } },
        scales: {
          x: {
            type: "linear", min: -240, max: 6240,
            afterBuildTicks: (s: any) => { s.ticks = xTicks.map((value) => ({ value })); },
            afterFit: (s: any) => { s.height = canvasBottom - p.bottom; },
            ticks: { display: false },
            grid: { drawOnChartArea: false, drawTicks: true, tickLength: 28, tickColor: "#555555", tickWidth: 2.5 },
            border: { display: true, color: "#444444", width: 3.5 },
          },
          y: {
            type: "linear", min: -43.2, max: 43.2,
            afterBuildTicks: (s: any) => { s.ticks = yTicks.map((value) => ({ value })); },
            afterFit: (s: any) => { s.width = p.left - canvasLeft; },
            ticks: { display: false },
            grid: { drawOnChartArea: false, drawTicks: true, tickLength: p.yLabels ? 19 : 3, tickColor: "#555555", tickWidth: 2.5 },
            border: { display: true, color: "#444444", width: 2.5 },
          },
        },
      } as any,
    });
    return () => chart.destroy();
  }, []);

  return (
    <canvas
      ref={ref}
      width={width}
      height={height}
      style={{ position: "absolute", left: canvasLeft, top: canvasTop, width, height, display: "block" }}
    />
  );
}

export default function App() {
  return (
    <div style={{ position: "absolute", left: 0, top: 0, width: 1953, height: 3799, overflow: "hidden", background: "#ffffff" }}>
      {panels.map((p) => (
        <PanelChart key={p.title} p={p} />
      ))}
    </div>
  );
}
